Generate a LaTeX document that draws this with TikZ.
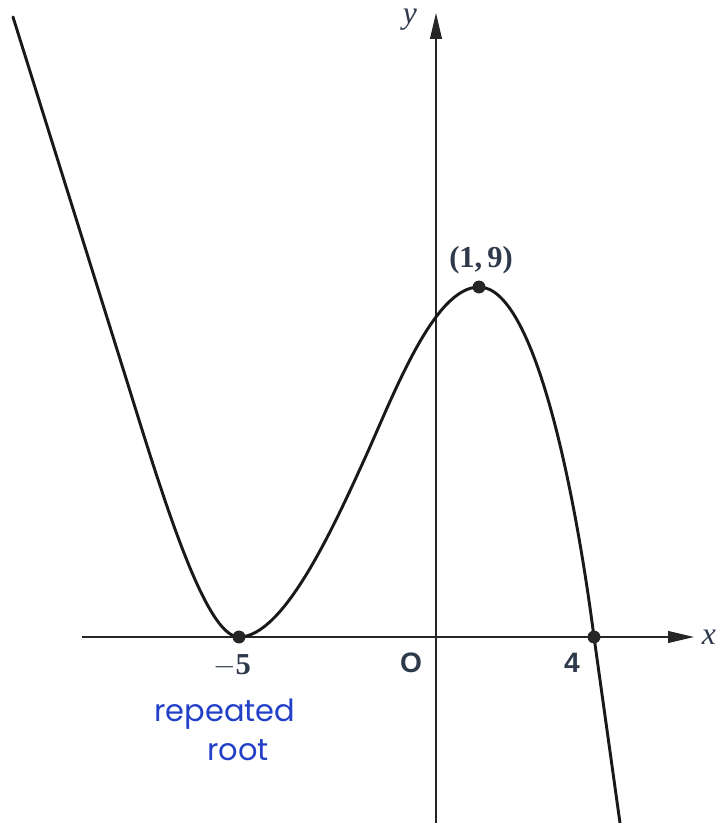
\documentclass[tikz,border=0pt]{standalone}
\usepackage{fontspec}
\setmainfont{Liberation Serif}
\newfontfamily\lblsans{Liberation Sans}
\newfontfamily\handfont{Poppins}
\usetikzlibrary{arrows.meta}
\definecolor{ink}{HTML}{2E3A4C}
\definecolor{pen}{HTML}{2340C8}
\tikzset{
  axis/.style={line width=1.3pt, black!85, -{Triangle[length=22pt,width=10pt]}},
  curve/.style={line width=2.5pt, black!90, line join=round, line cap=round},
  ptdot/.style={circle, fill=black!85, inner sep=0pt, minimum size=11pt},
  serlbl/.style={text=ink, font=\bfseries\fontsize{26}{28}\selectfont},
  varlbl/.style={text=ink, font=\itshape\fontsize{27}{28}\selectfont},
  sanlbl/.style={text=ink, font=\lblsans\bfseries\fontsize{24}{26}\selectfont},
  hand/.style={text=pen, font=\handfont\fontsize{26}{26}\selectfont, inner sep=0pt}
}
\begin{document}
\begin{tikzpicture}[x=0.03cm, y=-0.03cm]
\useasboundingbox (0,0) rectangle (716,823);
\fill[white] (0,0) rectangle (716,823);
% axes
\coordinate (xs) at (82,637);
\coordinate (xe) at (694,637);
\coordinate (ys) at (436,823);
\coordinate (ye) at (436,13);
\draw[axis] (xs) -- (xe);
\draw[axis] (ys) -- (ye);
% points
\coordinate (cstart) at (13,17);
\coordinate (cbend) at (125,375);
\coordinate (cmin) at (239,637);
\coordinate (cinfl) at (365,458);
\coordinate (cmax) at (479,287);
\coordinate (croot) at (594,637);
\coordinate (cend) at (620,823);
% curve
\draw[curve] (cstart) -- (cbend)
  .. controls (159.4,485) and (204,637) .. (cmin)
  .. controls (284,637) and (334,526) .. (cinfl)
  .. controls (394,394) and (434,287) .. (cmax)
  .. controls (534,287) and (574.5,487) .. (croot)
  -- (cend);
\node[ptdot] (pmin) at (cmin) {};
\node[ptdot] (pmax) at (cmax) {};
\node[ptdot] (proot) at (croot) {};
% labels
\node[varlbl] (ylbl) at (410,20) {y};
\node[varlbl] (xlbl) at (709,637) {x};
\node[serlbl] (maxlbl) at (481,260) {(1,\,9)};
\node[serlbl] (m5) at (232,666) {$\mathbf{-}$5};
\node[sanlbl] (olbl) at (411,663) {O};
\node[sanlbl] (four) at (572,663) {4};
\node[hand] (rep) at (225,714) {repeated};
\node[hand] (root) at (238,750) {root};
\end{tikzpicture}
\end{document}
